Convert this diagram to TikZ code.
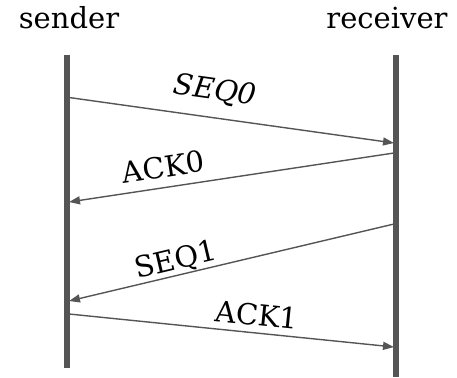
\documentclass[tikz,border=0pt]{standalone}
\usepackage{fontspec}
\setmainfont{DejaVu Serif}
\usetikzlibrary{arrows.meta}
\definecolor{lgray}{HTML}{555555}
\tikzset{
  lifeline/.style={draw=lgray, line width=5.5pt},
  msg/.style={draw=lgray, line width=1.4pt, -{Stealth[length=11pt,width=8pt,inset=0pt]}},
  title/.style={font=\fontsize{29}{32}\selectfont, anchor=base, inner sep=0pt},
  lbl/.style={font=\fontsize{29}{32}\selectfont, inner sep=0pt}
}
\begin{document}
\begin{tikzpicture}[x=1pt,y=-1pt]
\useasboundingbox (0,0) rectangle (457,377);
\node[title] (snd) at (69,29) {sender};
\node[title] (rcv) at (387,29) {receiver};
\coordinate (st) at (67,55);
\coordinate (sb) at (67,368);
\coordinate (rt) at (396,55);
\coordinate (rb) at (396,377);
\draw[lifeline] (st) -- (sb);
\draw[lifeline] (rt) -- (rb);
\coordinate (s0a) at (69,97.5);
\coordinate (s0b) at (394,143);
\coordinate (a0a) at (394,153);
\coordinate (a0b) at (69,202);
\coordinate (s1a) at (394,224);
\coordinate (s1b) at (69,301);
\coordinate (a1a) at (69,314);
\coordinate (a1b) at (394,347);
\draw[msg] (s0a) -- (s0b);
\draw[msg] (a0a) -- (a0b);
\draw[msg] (s1a) -- (s1b);
\draw[msg] (a1a) -- (a1b);
\node[lbl, rotate=-8] (l1) at (215,91) {\itshape SEQ0};
\node[lbl, rotate=8.6] (l2) at (163,167) {ACK0};
\node[lbl, rotate=13.3] (l3) at (176,261) {SEQ1};
\node[lbl, rotate=-5.8] (l4) at (257,315) {ACK1};
\end{tikzpicture}
\end{document}
